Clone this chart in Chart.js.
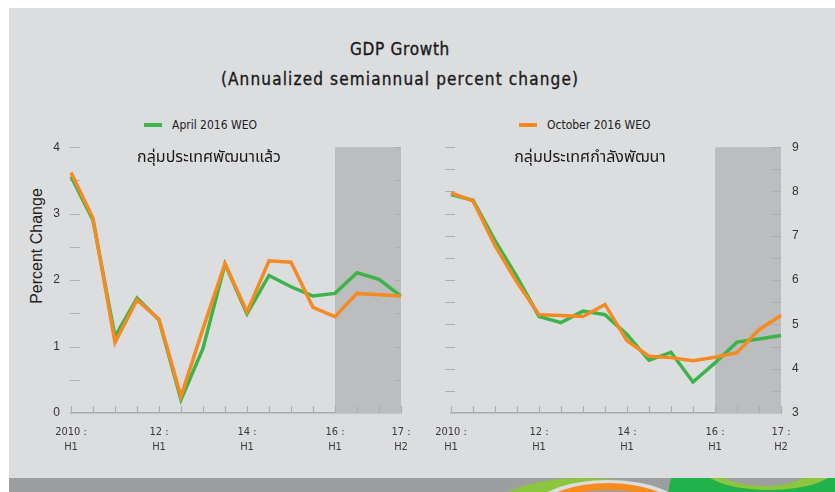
<!DOCTYPE html>
<html>
<head>
<meta charset="utf-8">
<script src="https://cdn.jsdelivr.net/npm/chart.js@4.4.1/dist/chart.umd.min.js"></script>
<style>
	body { margin: 0; background: #fff; }
	#page { position: relative; width: 835px; height: 492px; overflow: hidden; }
	#bg { position: absolute; left: 9px; top: 8px; width: 826px; height: 470px; background: #dcdddf; }
	#strip { position: absolute; left: 9px; top: 478px; width: 826px; height: 14px; background: #9d9ea0; overflow: hidden; }
	#strip div { position: absolute; border-radius: 50%; }
	.txt { position: absolute; white-space: nowrap; color: #1a1a1a; }
	.title { font-family: "DejaVu Sans Condensed", "DejaVu Sans"; font-size: 17px; left: 0; width: 800px; text-align: center; -webkit-text-stroke: 0.35px #1a1a1a; }
	.leg { font-family: "DejaVu Sans Condensed", "DejaVu Sans"; font-size: 12px; color: #222; }
	.swatch { position: absolute; width: 18px; height: 4px; }
	.panel { font-family: "Noto Sans Thai", "Noto Sans", sans-serif; font-size: 16px; }
	.chartbox { position: absolute; top: 137px; height: 323px; }
</style>
</head>
<body>
<div id="page">
	<div id="bg"></div>
	<div id="strip">
		<div style="left:474px;top:0px;width:200px;height:80px;background:#8cc63f;"></div>
		<div style="left:524px;top:2px;width:150px;height:60px;background:#dcdddf;"></div>
		<div style="left:534px;top:5px;width:130px;height:50px;background:#f68b1f;"></div>
		<div style="left:540px;top:12px;width:120px;height:40px;background:#9d9ea0;"></div>
		<div style="left:659px;top:-60px;width:260px;height:200px;background:#22b24c;border-radius:40%;"></div>
		<div style="left:690px;top:-40px;width:140px;height:52px;background:#8cc63f;"></div>
		<div style="left:700px;top:-44px;width:110px;height:52px;background:#9d9ea0;"></div>
	</div>

	<div class="txt title" style="top:39px;letter-spacing:0.7px;">GDP Growth</div>
	<div class="txt title" style="top:69px;letter-spacing:1.15px;">(Annualized semiannual percent change)</div>

	<div class="swatch" style="left:144px;top:123px;background:#3cb44a;"></div>
	<div class="txt leg" style="left:172px;top:118px;">April 2016 WEO</div>
	<div class="swatch" style="left:519px;top:123px;background:#f58a23;"></div>
	<div class="txt leg" style="left:547px;top:118px;">October 2016 WEO</div>

	<div class="txt" style="left:37px;top:246px;font-family:'Liberation Sans';font-size:16px;color:#222;transform:translate(-50%,-50%) rotate(-90deg);">Percent Change</div>

	<div class="chartbox" style="left:0px;width:420px;"><canvas id="advanced"></canvas></div>
	<div class="chartbox" style="left:420px;width:415px;"><canvas id="emerging"></canvas></div>

	<div class="txt panel" style="left:209px;top:145px;transform:translateX(-50%);">กลุ่มประเทศพัฒนาแล้ว</div>
	<div class="txt panel" style="left:590px;top:145px;transform:translateX(-50%);">กลุ่มประเทศกำลังพัฒนา</div>
</div>

<script>
// ===========================================
// Data
// ===========================================

// Half-years, 2010:H1 .. 2017:H2
var periods = [
	"2010:H1", "2010:H2", "2011:H1", "2011:H2",
	"2012:H1", "2012:H2", "2013:H1", "2013:H2",
	"2014:H1", "2014:H2", "2015:H1", "2015:H2",
	"2016:H1", "2016:H2", "2017:H1", "2017:H2"
];

var tickLabels = [
	["2010 :", "H1"], "", "", "",
	["12 :", "H1"], "", "", "",
	["14 :", "H1"], "", "", "",
	["16 :", "H1"], "", "", ["17 :", "H2"]
];

// forecast period starts here
var forecastStart = "2016:H1";

// Advanced economies
var adv_april   = [3.56, 2.90, 1.15, 1.73, 1.40, 0.20, 0.97, 2.24, 1.49, 2.07, 1.90, 1.76, 1.80, 2.11, 2.01, 1.76];
var adv_october = [3.62, 2.93, 1.06, 1.70, 1.41, 0.25, 1.27, 2.25, 1.52, 2.29, 2.27, 1.59, 1.45, 1.80, 1.78, 1.76];

// Emerging market and developing economies
var eme_april   = [7.93, 7.80, 6.89, 6.07, 5.18, 5.04, 5.30, 5.22, 4.77, 4.19, 4.37, 3.70, 4.13, 4.60, 4.67, 4.75];
var eme_october = [7.97, 7.79, 6.78, 5.95, 5.22, 5.20, 5.18, 5.45, 4.63, 4.28, 4.25, 4.18, 4.26, 4.36, 4.88, 5.20];

// Colors
var april_color = "#3cb44a";
var october_color = "#f58a23";
var shade_color = "#bcbdbf";
var tick_color = "#aeafb1";
var line_width = 3.5;

// ===========================================
// Plugins
// ===========================================

// grey forecast band and the small inside tick marks
var panelDecor = {
	id: 'panelDecor',
	beforeDatasetsDraw: function (chart, args, opts) {
		var ctx = chart.ctx;
		var area = chart.chartArea;
		var x = chart.scales.x;
		var y = chart.scales.y;
		var left = x.getPixelForValue(periods.indexOf(forecastStart));

		ctx.save();
		ctx.fillStyle = shade_color;
		ctx.fillRect(left, area.top, area.right - left, area.bottom - area.top);

		ctx.strokeStyle = tick_color;
		ctx.lineWidth = 1.2;
		ctx.beginPath();
		y.ticks.forEach(function (t) {
			if (t.value === y.min) return;
			var py = Math.round(y.getPixelForValue(t.value)) + 0.5;
			ctx.moveTo(area.left + opts.leftDash[0], py);
			ctx.lineTo(area.left + opts.leftDash[1], py);
			ctx.moveTo(area.right + opts.rightDash[0], py);
			ctx.lineTo(area.right + opts.rightDash[1], py);
		});
		periods.forEach(function (p, i) {
			var px = Math.round(x.getPixelForValue(i)) + 0.5;
			ctx.moveTo(px, area.bottom);
			ctx.lineTo(px, area.bottom - 7);
		});
		ctx.stroke();
		ctx.restore();
	}
};

// ===========================================
// Functions
// ===========================================
function createPanel(canvas, april_data, october_data, yMin, yMax, yPosition, padding, dashes) {
	return new Chart(canvas, {
		type: 'line',
		data: {
			labels: periods,
			datasets: [
			{
				label: "April 2016 WEO",
				data: april_data,
				borderColor: april_color,
				backgroundColor: april_color,
				borderWidth: line_width,
				pointRadius: 0,
				order: 1
			},
			{
				label: "October 2016 WEO",
				data: october_data,
				borderColor: october_color,
				backgroundColor: october_color,
				borderWidth: line_width,
				pointRadius: 0,
				order: 0
			}
			]
		},
		options: {
			responsive: true,
			maintainAspectRatio: false,
			animation: false,
			layout: { padding: padding },
			plugins: {
				legend: { display: false },
				tooltip: { enabled: false },
				panelDecor: dashes
			},
			scales: {
				x: {
					grid: { display: false },
					border: { display: true, color: '#a9aaac', width: 1.5 },
					ticks: {
						autoSkip: false,
						maxRotation: 0,
						padding: 4,
						color: '#3a3a3a',
						font: { family: 'DejaVu Sans Condensed', size: 11, lineHeight: 1.36 },
						callback: function (value, index) { return tickLabels[index]; }
					},
					afterFit: function (scale) { scale.height = 47; }
				},
				y: {
					position: yPosition,
					min: yMin,
					max: yMax,
					grid: { display: false },
					border: { display: false },
					ticks: {
						stepSize: 0.5,
						padding: 3,
						color: '#333',
						font: { family: 'Liberation Sans', size: 12 },
						callback: function (value) { return Number.isInteger(value) ? value : ''; }
					},
					afterFit: function (scale) { scale.width = yPosition === 'left' ? 71 : 54; }
				}
			}
		},
		plugins: [panelDecor]
	});
}

var advanced = document.getElementById("advanced").getContext('2d');
var emerging = document.getElementById("emerging").getContext('2d');

createPanel(advanced, adv_april, adv_october, 0, 4, 'left',
	{ top: 6, right: 19 }, { leftDash: [-1, 9], rightDash: [-6, 0] });
createPanel(emerging, eme_april, eme_october, 3, 9, 'right',
	{ top: 6, left: 31 }, { leftDash: [-6, 4], rightDash: [-10, 0] });
</script>
</body>
</html>
